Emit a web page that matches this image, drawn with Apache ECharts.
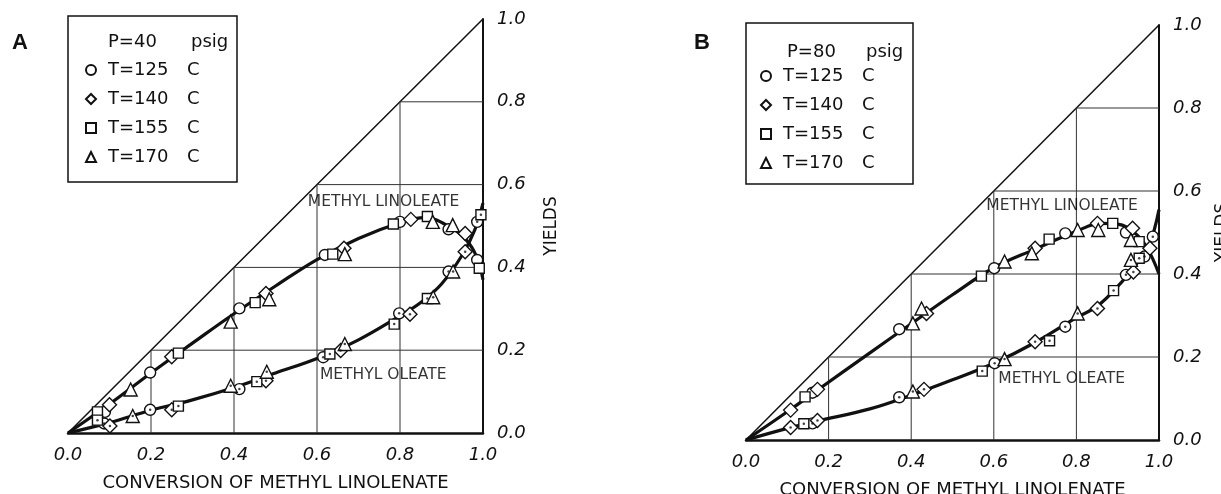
<!DOCTYPE html>
<html>
<head>
<meta charset="utf-8">
<script src="https://cdn.jsdelivr.net/npm/echarts@6/dist/echarts.min.js"></script>
<style>
  html, body { margin: 0; background: #fff; }
  #chart { width: 1221px; height: 494px; }
</style>
</head>
<body>
<div id="chart"></div>
<script>
// legend names / markers
const temps = ['T=125 C', 'T=140 C', 'T=155 C', 'T=170 C'];
const gridVals = [0.2, 0.4, 0.6, 0.8];

// ---- panel A (P=40 psig): linoleate / oleate yields per temperature
const aLin125 = [[0.089, 0.051], [0.198, 0.146], [0.413, 0.301], [0.619, 0.43], [0.80, 0.51], [0.917, 0.492], [0.986, 0.418]];
const aOle125 = [[0.087, 0.023], [0.198, 0.056], [0.413, 0.106], [0.615, 0.183], [0.798, 0.289], [0.917, 0.39], [0.986, 0.51]];
const aLin140 = [[0.10, 0.068], [0.25, 0.184], [0.477, 0.337], [0.665, 0.446], [0.826, 0.516], [0.957, 0.482]];
const aOle140 = [[0.101, 0.017], [0.25, 0.056], [0.477, 0.126], [0.657, 0.199], [0.824, 0.287], [0.957, 0.438]];
const aLin155 = [[0.071, 0.051], [0.266, 0.193], [0.451, 0.315], [0.638, 0.432], [0.784, 0.505], [0.866, 0.523], [0.991, 0.398]];
const aOle155 = [[0.071, 0.031], [0.266, 0.065], [0.455, 0.124], [0.631, 0.191], [0.786, 0.263], [0.866, 0.325], [0.995, 0.527]];
const aLin170 = [[0.151, 0.105], [0.392, 0.269], [0.485, 0.323], [0.667, 0.432], [0.879, 0.51], [0.927, 0.502]];
const aOle170 = [[0.156, 0.041], [0.392, 0.114], [0.479, 0.148], [0.667, 0.215], [0.88, 0.328], [0.928, 0.39]];
// fitted curves as drawn
const aLinCurve = [[0, 0], [0.1, 0.07], [0.2, 0.145], [0.3, 0.217], [0.4, 0.288], [0.5, 0.355], [0.6, 0.419], [0.7, 0.47], [0.8, 0.508], [0.86, 0.52], [0.92, 0.498], [0.96, 0.466], [0.985, 0.425], [1.0, 0.37]];
const aOleCurve = [[0, 0], [0.1, 0.025], [0.2, 0.055], [0.3, 0.08], [0.4, 0.11], [0.5, 0.145], [0.6, 0.18], [0.7, 0.225], [0.8, 0.283], [0.85, 0.315], [0.9, 0.36], [0.95, 0.43], [0.98, 0.49], [1.0, 0.555]];

// ---- panel B (P=80 psig)
const bLin125 = [[0.161, 0.114], [0.371, 0.267], [0.601, 0.414], [0.773, 0.498], [0.92, 0.50]];
const bOle125 = [[0.161, 0.04], [0.371, 0.103], [0.602, 0.185], [0.773, 0.273], [0.92, 0.398], [0.965, 0.442], [0.985, 0.49]];
const bLin140 = [[0.108, 0.072], [0.173, 0.122], [0.437, 0.305], [0.70, 0.462], [0.851, 0.522], [0.936, 0.51], [0.978, 0.462]];
const bOle140 = [[0.108, 0.030], [0.173, 0.047], [0.431, 0.122], [0.70, 0.237], [0.851, 0.317], [0.938, 0.405]];
const bLin155 = [[0.143, 0.104], [0.57, 0.395], [0.734, 0.484], [0.888, 0.522], [0.952, 0.478]];
const bOle155 = [[0.14, 0.039], [0.572, 0.166], [0.735, 0.239], [0.89, 0.36], [0.952, 0.438]];
const bLin170 = [[0.404, 0.281], [0.425, 0.317], [0.626, 0.43], [0.692, 0.45], [0.803, 0.506], [0.853, 0.506], [0.932, 0.482]];
const bOle170 = [[0.404, 0.117], [0.626, 0.195], [0.803, 0.305], [0.932, 0.434]];
const bLinCurve = [[0, 0], [0.1, 0.068], [0.17, 0.118], [0.3, 0.21], [0.4, 0.28], [0.5, 0.35], [0.6, 0.415], [0.7, 0.46], [0.8, 0.503], [0.86, 0.522], [0.9, 0.52], [0.94, 0.5], [0.97, 0.465], [1.0, 0.40]];
const bOleCurve = [[0, 0], [0.1, 0.028], [0.17, 0.045], [0.3, 0.075], [0.4, 0.108], [0.5, 0.145], [0.6, 0.185], [0.7, 0.235], [0.8, 0.295], [0.85, 0.322], [0.9, 0.37], [0.95, 0.43], [0.975, 0.465], [1.0, 0.555]];

const FONT = 'DejaVu Sans';
const INK = '#111';
const shapes = ['circle', 'diamond', 'rect', 'triangle'];
const sizes = [11, 14, 10, 13];

function panelSeries(i, lin, ole, linCurve, oleCurve, notes) {
  const ax = { xAxisIndex: i, yAxisIndex: i, silent: true };
  const out = [];
  out.push({ ...ax, type: 'line', data: [[0, 0], [1, 1]], symbol: 'none', lineStyle: { color: INK, width: 1.5 }, z: 1 });
  gridVals.forEach(v => {
    out.push({ ...ax, type: 'line', data: [[v, v], [1, v]], symbol: 'none', lineStyle: { color: '#333', width: 1 }, z: 1 });
    out.push({ ...ax, type: 'line', data: [[v, 0], [v, v]], symbol: 'none', lineStyle: { color: '#333', width: 1 }, z: 1 });
  });
  [linCurve, oleCurve].forEach(c => {
    out.push({ ...ax, type: 'line', data: c, symbol: 'none', smooth: 0.4, lineStyle: { color: INK, width: 3.2 }, z: 2 });
  });
  temps.forEach((t, k) => {
    [lin[k], ole[k]].forEach(d => {
      out.push({
        ...ax, type: 'scatter', name: t, data: d, symbol: shapes[k], symbolSize: sizes[k],
        itemStyle: { color: '#fff', borderColor: INK, borderWidth: 1.4, opacity: 1 }, z: 3
      });
    });
    out.push({ ...ax, type: 'scatter', name: 'dot', data: ole[k], symbol: 'circle', symbolSize: 2.5, itemStyle: { color: INK }, z: 4 });
  });
  out.push({
    ...ax, type: 'scatter', name: 'note', symbolSize: 0, z: 5,
    data: notes,
    label: { show: true, position: 'right', distance: 0, formatter: p => p.name, fontFamily: FONT, fontSize: 15.5, color: '#000' }
  });
  return out;
}

const legendBase = {
  orient: 'vertical', padding: 0, itemWidth: 10, itemHeight: 10, itemGap: 9,
  data: temps, selectedMode: false,
  formatter: n => { const p = n.split(' '); return '{t|' + p[0] + '}{c|' + p[1] + '}'; },
  textStyle: {
    fontFamily: FONT, fontSize: 18, color: INK, lineHeight: 20,
    rich: { t: { width: 79, padding: [0, 0, 0, 7], fontFamily: FONT, fontSize: 18, color: INK }, c: { fontFamily: FONT, fontSize: 18, color: INK } }
  }
};

function xAxisOf(i) {
  return {
    gridIndex: i, type: 'value', min: 0, max: 1, interval: 0.2,
    axisLine: { show: true, onZero: false, lineStyle: { color: INK, width: 2.5 } },
    axisTick: { show: false }, splitLine: { show: false },
    axisLabel: { margin: 13, fontFamily: FONT, fontStyle: 'italic', fontSize: 18, color: INK, formatter: v => v.toFixed(1) },
    name: 'CONVERSION OF METHYL LINOLENATE', nameLocation: 'middle', nameGap: 41,
    nameTextStyle: { fontFamily: FONT, fontSize: 18, color: INK }
  };
}
function yAxisOf(i, gap) {
  return {
    gridIndex: i, type: 'value', position: 'right', min: 0, max: 1, interval: 0.2,
    axisLine: { show: true, onZero: false, lineStyle: { color: INK, width: 2 } },
    axisTick: { show: false }, splitLine: { show: false },
    axisLabel: { margin: 14, fontFamily: FONT, fontStyle: 'italic', fontSize: 18, color: INK, formatter: v => v.toFixed(1) },
    name: 'YIELDS', nameLocation: 'middle', nameRotate: 90, nameGap: gap,
    nameTextStyle: { fontFamily: FONT, fontSize: 17, color: INK }
  };
}

const chart = echarts.init(document.getElementById('chart'), null, { renderer: 'canvas' });
chart.setOption({
  animation: false,
  backgroundColor: '#fff',
  grid: [
    { left: 68, top: 19, width: 415, height: 414, outerBoundsMode: 'none' },
    { left: 746, top: 25, width: 413, height: 415, outerBoundsMode: 'none' }
  ],
  xAxis: [xAxisOf(0), xAxisOf(1)],
  yAxis: [yAxisOf(0, 60), yAxisOf(1, 55)],
  legend: [
    { ...legendBase, left: 85, top: 60 },
    { ...legendBase, left: 760, top: 66 }
  ],
  graphic: [
    { type: 'rect', shape: { x: 68, y: 16, width: 169, height: 166 }, style: { fill: 'none', stroke: INK, lineWidth: 1.5 } },
    { type: 'text', x: 108, y: 42, style: { text: 'P=40', font: '18px "DejaVu Sans"', fill: INK, verticalAlign: 'middle' } },
    { type: 'text', x: 191, y: 42, style: { text: 'psig', font: '18px "DejaVu Sans"', fill: INK, verticalAlign: 'middle' } },
    { type: 'text', x: 20, y: 43, style: { text: 'A', font: 'bold 22px "Liberation Sans"', fill: INK, align: 'center', verticalAlign: 'middle' } },
    { type: 'rect', shape: { x: 746, y: 23, width: 167, height: 161 }, style: { fill: 'none', stroke: INK, lineWidth: 1.5 } },
    { type: 'text', x: 787, y: 52, style: { text: 'P=80', font: '18px "DejaVu Sans"', fill: INK, verticalAlign: 'middle' } },
    { type: 'text', x: 866, y: 52, style: { text: 'psig', font: '18px "DejaVu Sans"', fill: INK, verticalAlign: 'middle' } },
    { type: 'text', x: 702, y: 43, style: { text: 'B', font: 'bold 22px "Liberation Sans"', fill: INK, align: 'center', verticalAlign: 'middle' } }
  ],
  series: [
    ...panelSeries(0, [aLin125, aLin140, aLin155, aLin170], [aOle125, aOle140, aOle155, aOle170], aLinCurve, aOleCurve,
      [{ name: 'METHYL LINOLEATE', value: [0.578, 0.559] }, { name: 'METHYL OLEATE', value: [0.607, 0.139] }]),
    ...panelSeries(1, [bLin125, bLin140, bLin155, bLin170], [bOle125, bOle140, bOle155, bOle170], bLinCurve, bOleCurve,
      [{ name: 'METHYL LINOLEATE', value: [0.582, 0.563] }, { name: 'METHYL OLEATE', value: [0.611, 0.147] }])
  ]
});
</script>
</body>
</html>
